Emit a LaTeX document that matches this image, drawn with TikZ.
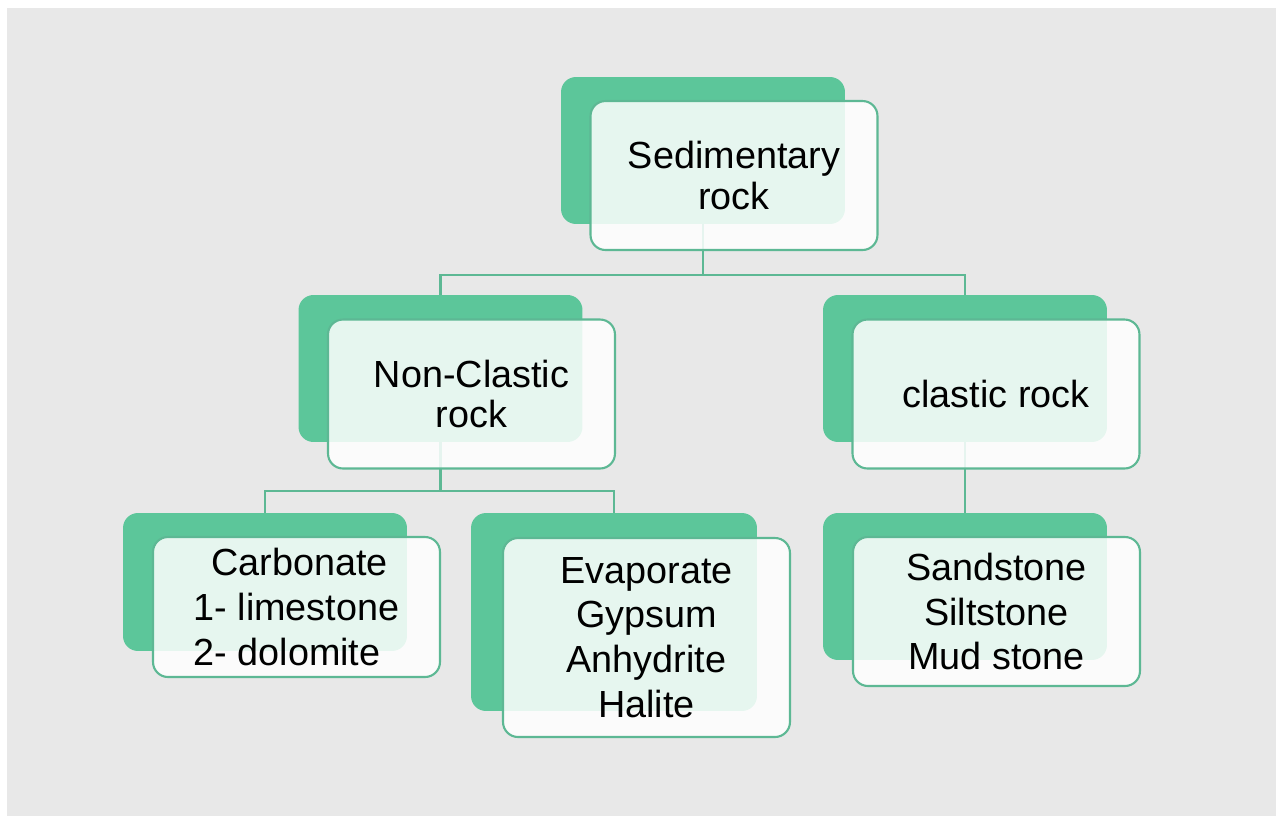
\documentclass[tikz,border=0pt]{standalone}
\usepackage{fontspec}
\setmainfont{Liberation Sans}
\usepackage{tikz}
\usetikzlibrary{positioning,calc}
\usepackage{xcolor}
\definecolor{rockgreen}{HTML}{5CC69A}
\definecolor{rockline}{HTML}{5DB894}
\definecolor{paper}{HTML}{E8E8E8}

\begin{document}
\begin{tikzpicture}[
    x=0.02cm, y=-0.02cm,
    back/.style={rectangle, rounded corners=8.5pt, fill=rockgreen, minimum width=5.68cm, minimum height=2.94cm, inner sep=0pt},
    front/.style={rectangle, rounded corners=8.5pt, draw=rockline, line width=1.2pt, fill=white, fill opacity=0.85, text opacity=1, minimum width=5.74cm, minimum height=2.98cm, align=center, inner sep=0pt, font=\fontsize{21.5}{25.5}\selectfont},
    title/.style={font=\fontsize{21.5}{23}\selectfont},
    link/.style={draw=rockline, line width=1.3pt}
  ]
    \useasboundingbox (0,0) rectangle (1276,816);
    \fill [paper] (7,8) rectangle (1276,816);

    \node (sedback) [back] at (703,150.5) {};
    \node (nonback) [back] at (440.5,368.5) {};
    \node (clasback) [back] at (965,368.5) {};
    \node (carbback) [back, minimum height=2.76cm] at (265,582) {};
    \node (evapback) [back, minimum width=5.72cm, minimum height=3.96cm] at (614,612) {};
    \node (sandback) [back] at (965,586.5) {};

    \draw [link] (sedback.south) -- ++(0,51) coordinate (sedjoin);
    \draw [link] (nonback.north) |- (sedjoin) -| (clasback.north);
    \draw [link] (nonback.south) -- ++(0,49) coordinate (nonjoin);
    \draw [link] (carbback.north) |- (nonjoin) -| (evapback.north);
    \draw [link] (clasback.south) -- (sandback.north);

    \node (sed) [front, title] at ([shift={(31,25)}]sedback.center) {Sedimentary\\rock};
    \node (non) [front, title] at ([shift={(31,25.5)}]nonback.center) {Non-Clastic\\rock};
    \node (clas) [front] at ([shift={(31,25.5)}]clasback.center) {clastic rock};
    \node (carb) [front, align=left, minimum height=2.8cm] at ([shift={(31.5,25)}]carbback.center) {\hspace*{0.36cm}Carbonate\\1- limestone\\2- dolomite};
    \node (evap) [front, minimum height=3.98cm] at ([shift={(32.5,25.5)}]evapback.center) {Evaporate\\Gypsum\\Anhydrite\\Halite};
    \node (sand) [front] at ([shift={(31.5,25)}]sandback.center) {Sandstone\\Siltstone\\Mud stone};
  \end{tikzpicture}
\end{document}
